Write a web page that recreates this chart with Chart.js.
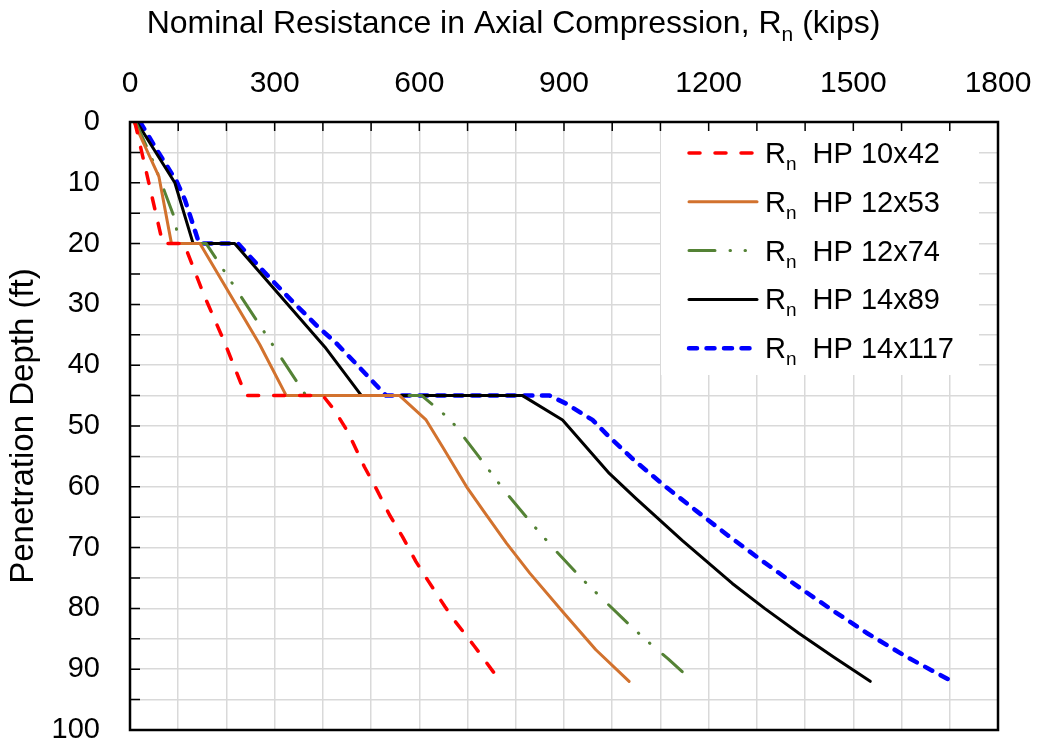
<!DOCTYPE html>
<html lang="en">
<head>
<meta charset="UTF-8">
<title>Nominal Resistance in Axial Compression</title>
<style>
  body { margin: 0; background: #fff; }
  #wrap { width: 1037px; height: 744px; }
</style>
</head>
<body>
<div id="wrap"><canvas id="chartCanvas" width="1037" height="744"></canvas></div>

<script src="https://cdn.jsdelivr.net/npm/chart.js"></script>
<script>
  // pile sections shown in the legend
  const sections = ['HP 10x42', 'HP 12x53', 'HP 12x74', 'HP 14x89', 'HP 14x117'];

  // penetration depth (ft) and nominal resistance Rn (kips)
  const depth10x42 = [0, 10, 20, 20, 28.2, 36.4, 45, 45, 47.5, 51, 56.7, 60.5, 64.6, 68.2, 72.3, 75.3, 79.7, 82.2, 86.3, 90.5];
  const rn10x42    = [10, 39, 68, 112, 152, 197, 240, 400, 425, 452, 486, 512, 538, 565, 593, 617, 653, 675, 715, 754];

  const depth12x53 = [0, 9, 20, 20, 36.6, 45, 45, 49, 53.4, 60, 64.4, 69.3, 74.2, 80.8, 86.8, 92];
  const rn12x53    = [8, 60, 86, 145, 269, 324, 559, 614, 648, 698, 737, 781, 829, 900, 966, 1035];

  const depth12x74 = [0, 6.5, 11.5, 15.3, 20, 20, 45, 45, 49, 55, 61, 66.3, 70.1, 75.2, 78.6, 81.9, 85.2, 88.3, 92];
  const rn12x74    = [12, 48, 72, 90, 103, 158, 365, 605, 665, 723, 780, 836, 878, 938, 982, 1025, 1070, 1116, 1167];

  const depth14x89 = [0, 10, 20, 20, 37, 45, 45, 49, 57.8, 61.9, 68.8, 75.9, 80, 84.1, 88, 92];
  const rn14x89    = [14, 93, 131, 217, 404, 480, 814, 897, 994, 1049, 1145, 1249, 1316, 1387, 1459, 1535];

  const depth14x117 = [0, 4.9, 9.8, 12.8, 19.4, 20, 20, 24.9, 29.6, 33.7, 36.4, 40.2, 45, 45, 46.3, 49, 51.8, 55.6, 60, 64, 68, 72, 76, 80, 84, 88, 92];
  const rn14x117    = [21, 58, 97, 114, 141, 145, 224, 281, 338, 390, 428, 474, 531, 870, 904, 959, 994, 1045, 1111, 1175, 1240, 1308, 1378, 1451, 1527, 1611, 1705];

  // axis ranges and label steps
  const xMax = 1800, xGridStep = 100, xLabelStep = 300;
  const yMax = 100, yGridStep = 5, yLabelStep = 10;

  const FONT = "'Liberation Sans', Arial, sans-serif";
  Chart.defaults.font.family = FONT;
  Chart.defaults.color = '#000';

  function pts(depth, rn) {
    return depth.map((d, i) => ({ x: rn[i], y: d }));
  }

  // text with a subscript n, e.g. "R" + "n"
  function drawRn(ctx, x, y, size, before, after) {
    ctx.font = size + 'px ' + FONT;
    ctx.textBaseline = 'alphabetic';
    ctx.textAlign = 'left';
    ctx.fillText(before, x, y);
    x += ctx.measureText(before).width;
    ctx.font = Math.round(size * 0.66) + 'px ' + FONT;
    ctx.fillText('n', x, y + size * 0.24);
    x += ctx.measureText('n').width;
    ctx.font = size + 'px ' + FONT;
    ctx.fillText(after, x, y);
  }
  function rnWidth(ctx, size, before, after) {
    ctx.font = size + 'px ' + FONT;
    let w = ctx.measureText(before).width + ctx.measureText(after).width;
    ctx.font = Math.round(size * 0.66) + 'px ' + FONT;
    return w + ctx.measureText('n').width;
  }

  const frame = {
    id: 'frame',
    afterDatasetsDraw(chart) {
      const { ctx, chartArea: a } = chart;
      // legend box inside the plot, top right
      const bx = 661, by = a.top, bw = 318, bh = 253;
      ctx.save();
      ctx.fillStyle = '#fff';
      ctx.fillRect(bx, by, bw, bh);
      chart.data.datasets.forEach((ds, i) => {
        const cy = by + 31 + i * 48.8;
        ctx.save();
        ctx.strokeStyle = ds.borderColor;
        ctx.lineWidth = ds.borderWidth;
        ctx.lineCap = ds.borderCapStyle;
        ctx.setLineDash(ds.borderDash || []);
        ctx.beginPath();
        ctx.moveTo(bx + 28, cy);
        ctx.lineTo(bx + 96, cy);
        ctx.stroke();
        ctx.restore();
        ctx.fillStyle = '#000';
        drawRn(ctx, bx + 104, cy + 10, 29, 'R', '  ' + sections[i]);
      });
      ctx.restore();
    },
    afterDraw(chart) {
      const { ctx, chartArea: a, scales: { x, y } } = chart;
      ctx.save();
      ctx.strokeStyle = '#000';
      ctx.lineWidth = 1.5;
      ctx.beginPath();
      for (let v = 0; v <= xMax; v += xGridStep) {
        const px = x.getPixelForValue(v);
        ctx.moveTo(px, a.top);
        ctx.lineTo(px, a.top + 9);
      }
      for (let v = 0; v <= yMax; v += yGridStep) {
        const py = y.getPixelForValue(v);
        ctx.moveTo(a.left, py);
        ctx.lineTo(a.left + 10, py);
      }
      ctx.stroke();
      ctx.lineWidth = 2.5;
      ctx.strokeRect(a.left, a.top, a.right - a.left, a.bottom - a.top);
      // top axis title
      ctx.fillStyle = '#000';
      const title = 'Nominal Resistance in Axial Compression, R';
      const w = rnWidth(ctx, 32, title, ' (kips)');
      drawRn(ctx, chart.width / 2 - w / 2 - 5, 33, 32, title, ' (kips)');
      ctx.restore();
    }
  };

  const ctx = document.getElementById('chartCanvas').getContext('2d');
  new Chart(ctx, {
    type: 'scatter',
    data: {
      datasets: [
        { label: sections[0], data: pts(depth10x42, rn10x42), borderColor: '#ff0000',
          borderWidth: 3.5, borderDash: [11, 15], borderCapStyle: 'round' },
        { label: sections[1], data: pts(depth12x53, rn12x53), borderColor: '#d2722e',
          borderWidth: 3, borderDash: [], borderCapStyle: 'round' },
        { label: sections[2], data: pts(depth12x74, rn12x74), borderColor: '#548235',
          borderWidth: 3, borderDash: [26, 15, 0.5, 14.5, 0.5, 17], borderCapStyle: 'round' },
        { label: sections[3], data: pts(depth14x89, rn14x89), borderColor: '#000000',
          borderWidth: 3, borderDash: [], borderCapStyle: 'round' },
        { label: sections[4], data: pts(depth14x117, rn14x117), borderColor: '#0000ff',
          borderWidth: 4.5, borderDash: [8, 9.5], borderCapStyle: 'round' }
      ].map(ds => Object.assign(ds, { showLine: true, pointRadius: 0, pointHoverRadius: 0,
          tension: 0, fill: false, borderJoinStyle: 'round' }))
    },
    options: {
      responsive: false,
      devicePixelRatio: 1,
      animation: false,
      events: [],
      layout: { padding: { left: 0, top: 0, right: 39, bottom: 14 } },
      plugins: {
        legend: { display: false },
        tooltip: { enabled: false }
      },
      scales: {
        x: {
          type: 'linear',
          position: 'top',
          min: 0,
          max: xMax,
          afterFit(s) { s.height = 122; s.paddingLeft = 0; s.paddingRight = 0; },
          ticks: {
            stepSize: xGridStep,
            autoSkip: false,
            maxRotation: 0,
            padding: 20,
            font: { size: 30 },
            callback: v => (v % xLabelStep === 0 ? String(v) : '')
          },
          grid: { color: '#d9d9d9', lineWidth: 1.5, drawTicks: false },
          border: { display: false }
        },
        y: {
          type: 'linear',
          reverse: true,
          min: 0,
          max: yMax,
          afterFit(s) { s.width = 130; s.paddingTop = 0; s.paddingBottom = 0; },
          ticks: {
            stepSize: yGridStep,
            autoSkip: false,
            padding: 30,
            font: { size: 29 },
            callback: v => (v % yLabelStep === 0 ? String(v) : '')
          },
          grid: { color: '#d9d9d9', lineWidth: 1.5, drawTicks: false },
          border: { display: false },
          title: {
            display: true,
            text: 'Penetration Depth (ft)',
            font: { size: 33 },
            padding: { top: 4, bottom: 0 }
          }
        }
      }
    },
    plugins: [frame]
  });
</script>
</body>
</html>
